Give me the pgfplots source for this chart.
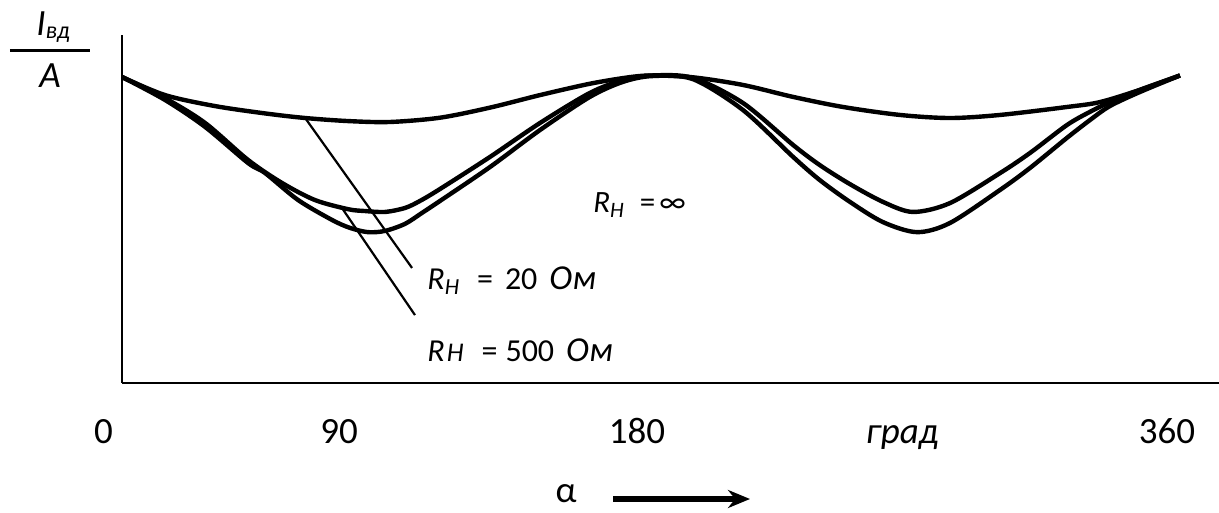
\documentclass[border=0pt]{standalone}
\usepackage{pgfplots}
\pgfplotsset{compat=1.18}
\usepackage{fontspec}
\setmainfont{Carlito}
\usetikzlibrary{arrows.meta}
\begin{document}
\begin{tikzpicture}
\begin{axis}[
  scale only axis, width=548.5pt, height=174pt,
  xmin=0, xmax=372.56, ymin=0, ymax=1.1373,
  axis x line=bottom, axis y line=left,
  axis line style={-, line width=1.4pt, black},
  xtick={0,73.7,174.9,264.9,354.9},
  xticklabels={\makebox[0pt][r]{0\kern4.5pt},90,180,\textit{град},360},
  xtick style={draw=none},
  ytick=\empty,
  xticklabel style={font=\fontsize{18.5}{20}\selectfont, anchor=base, yshift=-28pt},
  clip=false,
]
% R = infinity
\addplot[black, line width=2.2pt, smooth, tension=0.5] coordinates {
(0,1.000) (14.6,0.941) (31.6,0.905) (48.6,0.881) (62.2,0.866) (76.8,0.856)
(91.0,0.853) (108.0,0.867) (125.0,0.900) (142.0,0.941) (158.9,0.978)
(172,0.999) (180,1.005) (193.9,0.999) (210.9,0.974) (227.9,0.935)
(244.9,0.902) (264.2,0.876) (281.2,0.866) (298.2,0.876) (320.9,0.902)
(332.1,0.918) (345.7,0.958) (359.3,1.005)
};
% R = 20 Ohm
\addplot[black, line width=2.2pt, smooth, tension=0.5] coordinates {
(0,1.000) (14.6,0.931) (28.2,0.850) (42.8,0.729) (54.3,0.654) (65.5,0.598)
(76.8,0.568) (82.5,0.562) (89.3,0.559) (96.1,0.572) (101.2,0.595) (108.0,0.634)
(125.0,0.739) (142.0,0.850) (158.9,0.948) (170.1,0.990) (180,1.005)
(193.9,0.997) (210.9,0.915) (227.9,0.778) (237.0,0.712) (247.2,0.650)
(258.4,0.592) (268.6,0.559) (281.2,0.588) (298.2,0.686) (308.4,0.752)
(320.9,0.843) (328.7,0.886) (335.5,0.918) (345.7,0.958) (359.3,1.005)
};
% R = 500 Ohm
\addplot[black, line width=2.2pt, smooth, tension=0.5] coordinates {
(0,1.000) (14.6,0.925) (28.2,0.837) (42.8,0.719) (48.6,0.686) (59.8,0.598)
(71.3,0.533) (77.4,0.507) (83.5,0.493) (89.3,0.497) (96.1,0.520)
(101.9,0.556) (108.0,0.595) (125.0,0.706) (142.0,0.827) (158.9,0.935)
(170.1,0.984) (180,1.003) (193.9,0.993) (210.9,0.892) (227.9,0.739)
(237.0,0.663) (247.2,0.592) (258.4,0.526) (270.0,0.493) (281.2,0.523)
(298.2,0.631) (308.4,0.703) (320.9,0.801) (328.7,0.859) (335.5,0.905)
(345.7,0.951) (359.3,1.005)
};
\draw[line width=1.1pt] (axis cs:62.2,0.866) -- (axis cs:98.5,0.376);
\draw[line width=1.1pt] (axis cs:74.7,0.572) -- (axis cs:99.5,0.222);
\end{axis}
% y label
\node[font=\fontsize{18.5}{20}\selectfont\itshape] at (-34.5pt,178pt) {I\raisebox{-0.2ex}{\fontsize{12}{13}\selectfont вд}};
\draw[line width=1.5pt] (-56pt,166pt) -- (-16pt,166pt);
\node[font=\fontsize{18.5}{20}\selectfont\itshape] at (-36pt,153.5pt) {A};
% curve labels
\node[anchor=base west, inner sep=0pt, font=\fontsize{15.5}{18}\selectfont] at (235.5pt,85pt)
  {\textit{R}\raisebox{-0.3ex}{\fontsize{11}{12}\selectfont\itshape Н}\kern8pt=\kern2pt∞};
\node[anchor=base west, inner sep=0pt, font=\fontsize{16}{18}\selectfont] at (152.5pt,46.5pt)
  {\textit{R}\raisebox{-0.3ex}{\fontsize{11.5}{12}\selectfont\itshape Н}\kern9pt=\kern6pt20\kern6pt{\fontsize{17.5}{18}\selectfont\itshape Ом}};
\node[anchor=base west, inner sep=0pt, font=\fontsize{16}{18}\selectfont] at (152.5pt,10.5pt)
  {\textit{R}\kern1pt{\fontsize{13.5}{14}\selectfont\itshape Н}\kern9pt=\kern4pt500\kern6pt{\fontsize{17.5}{18}\selectfont\itshape Ом}};
% alpha with arrow
\node[inner sep=0pt, font=\fontsize{18.5}{20}\selectfont] at (222pt,-55.5pt) {α};
\draw[line width=2.6pt, -{Stealth[length=11pt,width=9pt]}] (245.5pt,-58pt) -- (314pt,-58pt);
\pgfresetboundingbox
\path[use as bounding box] (-61pt,-65pt) rectangle (548.5pt,191.5pt);
\end{tikzpicture}
\end{document}
